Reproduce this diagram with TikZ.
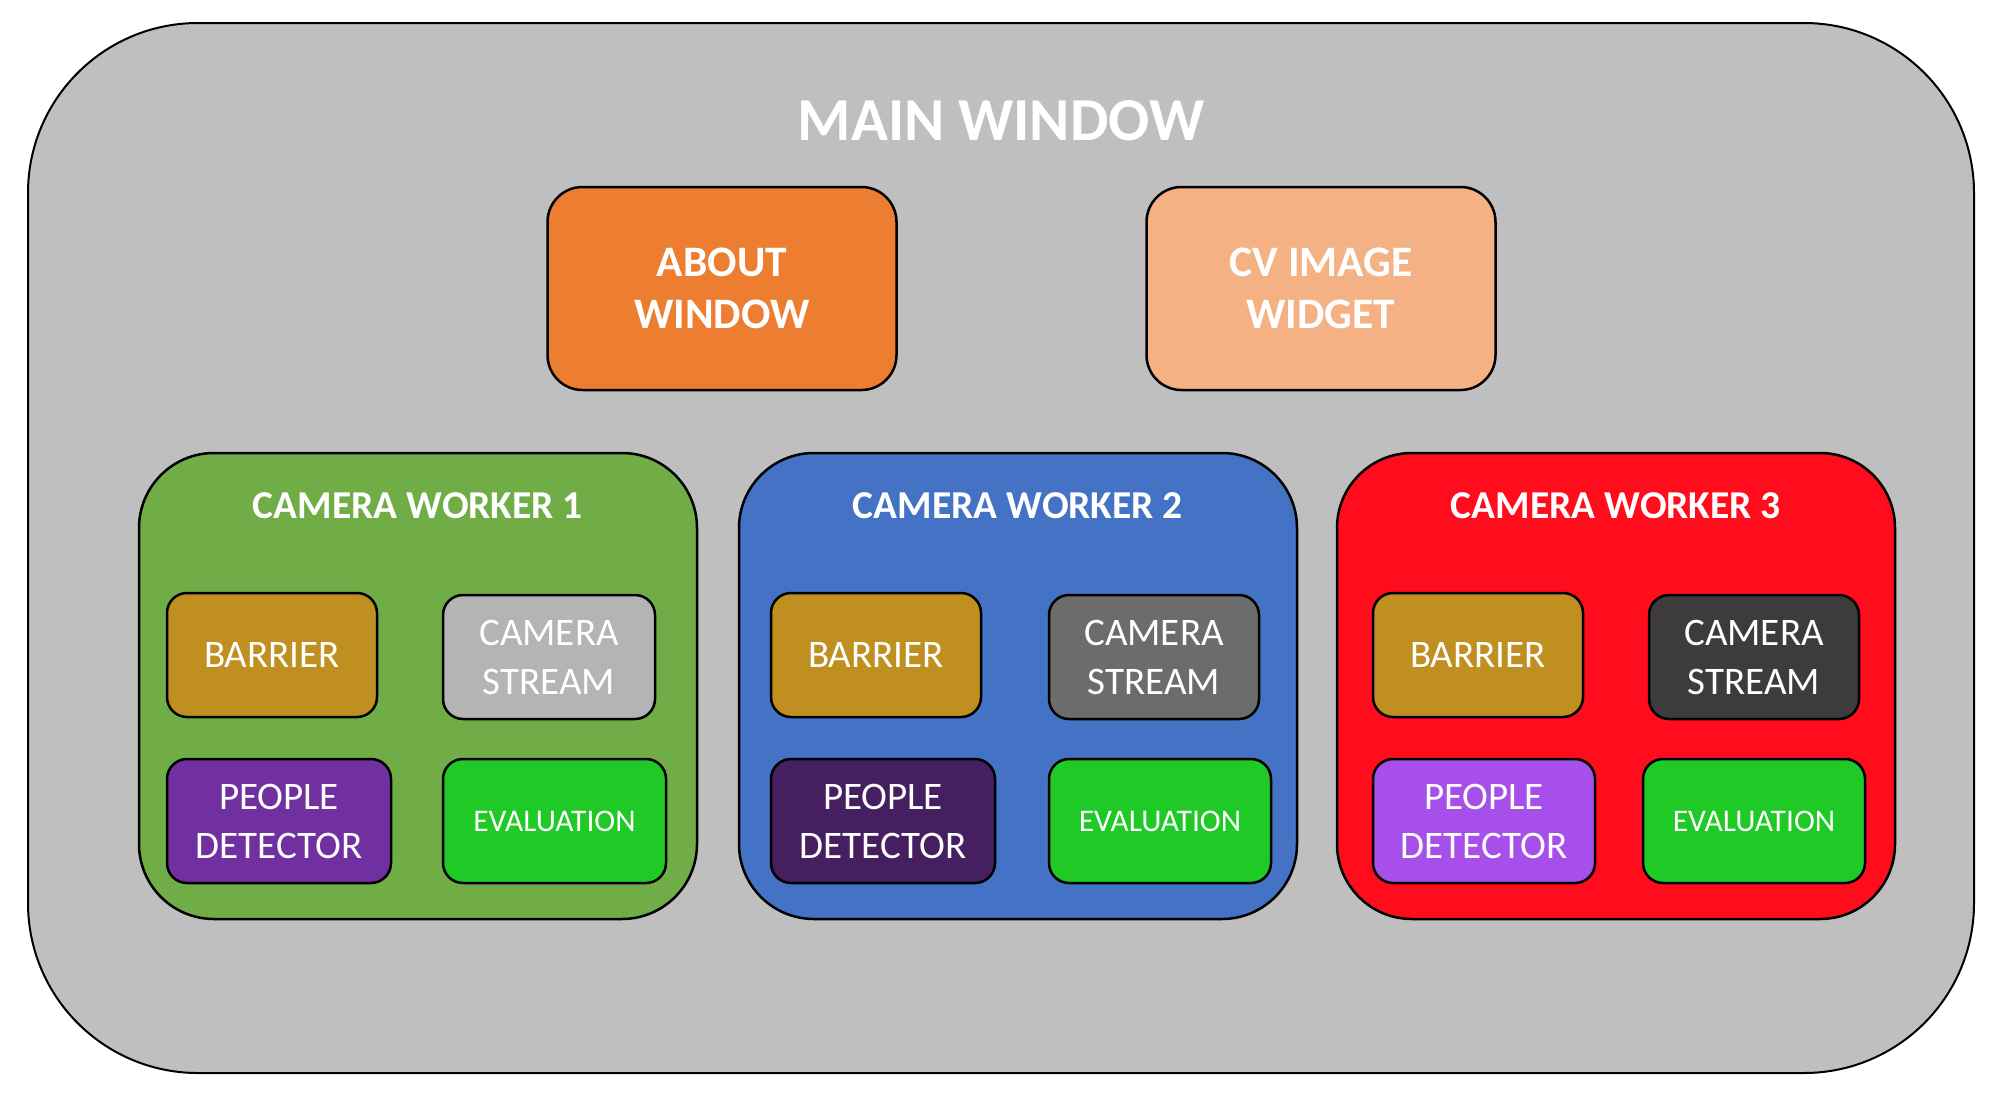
\documentclass[tikz,border=0pt]{standalone}
\usepackage{fontspec}
\setmainfont{Carlito}
\usetikzlibrary{positioning}
\definecolor{mwgray}{HTML}{BFBFBF}
\definecolor{mworange}{HTML}{ED7D31}
\definecolor{mwpeach}{HTML}{F4B183}
\definecolor{cwgreen}{HTML}{70AD47}
\definecolor{cwblue}{HTML}{4472C4}
\definecolor{cwred}{HTML}{FF0D1D}
\definecolor{barriergold}{HTML}{BF8F1F}
\definecolor{streamlight}{HTML}{B5B4B5}
\definecolor{streammid}{HTML}{6D6C6D}
\definecolor{streamdark}{HTML}{3E3B3C}
\definecolor{peoplemid}{HTML}{7030A0}
\definecolor{peopledark}{HTML}{451F60}
\definecolor{peoplelight}{HTML}{A64FEA}
\definecolor{evalgreen}{HTML}{1FC926}

\begin{document}
\begin{tikzpicture}[
    x=1pt, y=-1pt,
    every node/.style={inner sep=0pt, text=white},
    window/.style={draw=black, line width=2pt, rounded corners=170pt, fill=mwgray,
      minimum width=1946pt, minimum height=1050pt},
    subwin/.style={draw=black, line width=2.5pt, rounded corners=35pt,
      minimum width=349pt, minimum height=203pt, align=center,
      font=\fontsize{43.5}{52}\selectfont\bfseries},
    worker/.style={draw=black, line width=2.5pt, rounded corners=75pt,
      minimum width=558pt, minimum height=466pt},
    wtitle/.style={anchor=base, font=\fontsize{39.5}{47}\selectfont\bfseries},
    part/.style={draw=black, line width=2.5pt, rounded corners=20pt,
      minimum height=124pt, align=center, font=\fontsize{39}{49}\selectfont},
    evalbox/.style={part, fill=evalgreen, font=\fontsize{31.5}{38}\selectfont}
  ]
    \useasboundingbox (0,0) rectangle (2010,1106);

    % Main window
    \node[window] (main) at (1001,548) {};
    \node[anchor=base, font=\fontsize{61}{73}\selectfont\bfseries] (maintitle) at (1001,140) {MAIN WINDOW};

    % Sub windows
    \node[subwin, fill=mworange] (about) at (722,288.5) {ABOUT\\WINDOW};
    \node[subwin, fill=mwpeach] (cvimage) at (1321,288.5) {CV IMAGE\\WIDGET};

    % Camera worker 1
    \node[worker, fill=cwgreen] (cw1) at (418,686) {};
    \node[wtitle] (cw1title) at (418,518) {CAMERA WORKER 1};
    \node[part, fill=barriergold, minimum width=210pt] (barrier1) at (272,655) {BARRIER};
    \node[part, fill=streamlight, minimum width=212pt] (stream1) at (549,657) {CAMERA\\STREAM};
    \node[part, fill=peoplemid, minimum width=224pt] (people1) at (279,821) {PEOPLE\\DETECTOR};
    \node[evalbox, minimum width=223pt] (eval1) at (554.5,821) {EVALUATION};

    % Camera worker 2
    \node[worker, fill=cwblue] (cw2) at (1018,686) {};
    \node[wtitle] (cw2title) at (1018,518) {CAMERA WORKER 2};
    \node[part, fill=barriergold, minimum width=210pt] (barrier2) at (876,655) {BARRIER};
    \node[part, fill=streammid, minimum width=210pt] (stream2) at (1154,657) {CAMERA\\STREAM};
    \node[part, fill=peopledark, minimum width=224pt] (people2) at (883,821) {PEOPLE\\DETECTOR};
    \node[evalbox, minimum width=222pt] (eval2) at (1160,821) {EVALUATION};

    % Camera worker 3
    \node[worker, fill=cwred] (cw3) at (1616,686) {};
    \node[wtitle] (cw3title) at (1616,518) {CAMERA WORKER 3};
    \node[part, fill=barriergold, minimum width=210pt] (barrier3) at (1478,655) {BARRIER};
    \node[part, fill=streamdark, minimum width=210pt] (stream3) at (1754,657) {CAMERA\\STREAM};
    \node[part, fill=peoplelight, minimum width=222pt] (people3) at (1484,821) {PEOPLE\\DETECTOR};
    \node[evalbox, minimum width=222pt] (eval3) at (1754,821) {EVALUATION};
  \end{tikzpicture}
\end{document}
